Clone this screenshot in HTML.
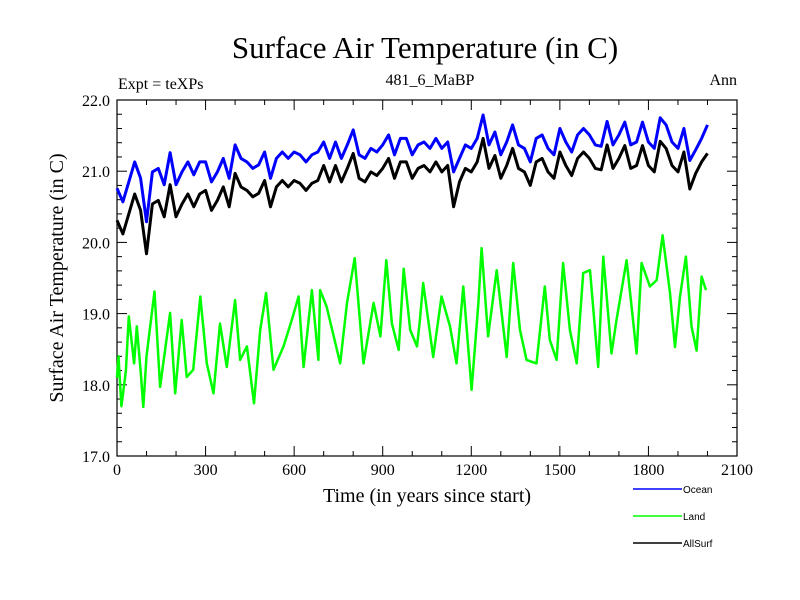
<!DOCTYPE html>
<html><head><meta charset="utf-8"><style>
html,body{margin:0;padding:0;background:#fff;}
svg{display:block;}
text{font-family:"Liberation Serif",serif;fill:#000;}
.sans{font-family:"Liberation Sans",sans-serif;}
</style></head><body>
<svg id="chart" width="800" height="600" xmlns="http://www.w3.org/2000/svg">
<text x="425" y="58" font-size="31" text-anchor="middle">Surface Air Temperature (in C)</text>
<text x="118" y="89" font-size="16">Expt = teXPs</text>
<text x="430" y="85" font-size="16" text-anchor="middle">481_6_MaBP</text>
<text x="737" y="85" font-size="16" text-anchor="end">Ann</text>
<text transform="translate(63,278) rotate(-90)" font-size="20" text-anchor="middle">Surface Air Temperature (in C)</text>
<text x="427" y="502" font-size="20" text-anchor="middle">Time (in years since start)</text>
<g id="axes"></g>
<g id="series"></g>
<g>
<line x1="633" y1="489" x2="682" y2="489" stroke="#0000ff" stroke-width="1.5"/>
<text class="sans" x="683" y="493" font-size="10">Ocean</text>
<line x1="633" y1="516" x2="682" y2="516" stroke="#00ff00" stroke-width="1.5"/>
<text class="sans" x="683" y="520" font-size="10">Land</text>
<line x1="633" y1="543" x2="682" y2="543" stroke="#000" stroke-width="1.5"/>
<text class="sans" x="683" y="547" font-size="10">AllSurf</text>
</g>
</svg>
<script>
const xTickLabels = [0,300,600,900,1200,1500,1800,2100];
const yTickLabels = ["17.0","18.0","19.0","20.0","21.0","22.0"];
const oceanTemps = [20.76,20.57,20.85,21.13,20.90,20.29,20.99,21.04,20.81,21.26,20.81,20.99,21.13,20.95,21.13,21.13,20.85,20.99,21.18,20.90,21.37,21.18,21.13,21.04,21.09,21.27,20.90,21.18,21.27,21.18,21.27,21.23,21.13,21.23,21.27,21.41,21.18,21.41,21.18,21.37,21.58,21.23,21.18,21.32,21.27,21.37,21.51,21.23,21.46,21.46,21.23,21.37,21.41,
21.32,21.46,21.32,21.41,20.99,21.18,21.37,21.32,21.46,21.79,21.37,21.55,21.23,21.41,21.65,21.37,21.32,21.13,21.46,21.51,21.32,21.23,21.60,21.41,21.27,21.51,21.60,21.51,21.37,
21.35,21.70,21.37,21.51,21.69,21.37,21.41,21.69,21.41,21.32,21.75,21.65,21.41,21.32,21.60,21.15,21.30,21.46,21.65];
const allSurfTemps = [20.31,20.12,20.40,20.68,20.45,19.84,20.54,20.59,20.36,20.81,20.36,20.54,20.68,20.50,20.68,
20.73,20.45,20.59,20.78,20.50,20.97,20.78,20.73,20.64,20.69,20.87,20.50,20.78,20.87,20.78,20.87,20.83,20.73,20.83,20.87,
21.08,20.85,21.08,20.85,21.04,21.25,20.90,20.85,20.99,20.94,21.04,21.18,20.90,21.13,21.13,20.90,21.04,21.08,
20.99,21.13,20.99,21.08,20.50,20.85,21.04,20.99,21.13,21.46,21.04,21.22,20.90,21.08,21.32,21.04,20.99,20.80,21.13,21.18,20.99,20.90,21.27,21.08,20.94,21.18,21.27,21.18,21.04,21.02,21.37,21.04,21.18,21.36,21.04,21.08,21.36,21.08,20.99,21.42,21.32,21.08,20.99,21.27,20.75,20.97,21.13,21.25];
const landYears = [0,5,15,30,40,58,67,80,89,100,127,146,180,197,219,236,258,282,304,327,349,372,400,417,440,464,485,505,530,564,592,615,632,660,682,688,710,756,779,805,835,869,892,912,931,954,971,993,1016,
1026,1037,1071,1099,1128,1150,1173,1201,1224,1235,1257,1286,1320,1342,1365,1387,1421,1449,1466,1489,1511,1534,1557,1579,1602,1630,1647,1675,1692,1726,1760,1777,1805,1828,1848,1873,1890,1907,1927,1946,1963,1980,1995];
const landTemps = [18.1,18.4,17.7,18.2,18.96,18.3,18.82,18.2,17.69,18.4,19.31,17.97,19.01,17.88,18.91,18.11,18.21,19.24,18.3,17.88,18.86,18.25,19.19,18.35,18.54,17.74,18.77,19.29,18.21,18.54,18.91,19.24,18.25,19.33,18.35,19.33,19.10,18.30,19.15,19.78,18.30,19.15,18.68,19.75,18.86,18.49,19.63,18.77,18.54,
18.91,19.43,18.39,19.24,18.82,18.30,19.38,17.93,19.15,19.92,18.68,19.61,18.39,19.71,18.77,18.35,18.30,19.38,18.63,18.35,19.71,18.77,18.30,19.57,19.61,18.25,19.80,18.44,18.91,19.75,18.44,19.71,19.38,19.47,20.10,19.29,18.53,19.24,19.80,18.82,18.48,19.52,19.33];

const X0=117,X1=737,Y0=456,Y1=100;
const xs = v => X0 + (v-0)/(2100-0)*(X1-X0);
const ys = v => Y0 - (v-17)/(22-17)*(Y0-Y1);
const NS="http://www.w3.org/2000/svg";
function mk(tag, attrs){const e=document.createElementNS(NS,tag);for(const k in attrs)e.setAttribute(k,attrs[k]);return e;}
const axes=document.getElementById('axes');
const frame=mk('rect',{x:X0,y:Y1,width:X1-X0,height:Y0-Y1,fill:'none',stroke:'#000','stroke-width':1.2});


axes.appendChild(frame);
for(let t=0;t<=2100;t+=100){
  const x=xs(t), L=(t%300===0)?10:5;
  const a=mk('line',{x1:x,y1:Y0,x2:x,y2:Y0-L,stroke:'#000'});
  
  
  axes.appendChild(a);
  const b=mk('line',{x1:x,y1:Y1,x2:x,y2:Y1+L,stroke:'#000'});
  
  
  axes.appendChild(b);
}
xTickLabels.forEach(v=>{
  const t=mk('text',{x:xs(v),y:Y0+19,'font-size':16,'text-anchor':'middle'});
  t.textContent=v;
  
  
  axes.appendChild(t);
});
for(let i=0;i<=25;i++){
  const v=17+i*0.2, y=ys(v), L=(i%5===0)?10:5;
  const a=mk('line',{x1:X0,y1:y,x2:X0+L,y2:y,stroke:'#000'});
  
  
  axes.appendChild(a);
  const b=mk('line',{x1:X1,y1:y,x2:X1-L,y2:y,stroke:'#000'});
  
  
  axes.appendChild(b);
}
yTickLabels.forEach(s=>{
  const t=mk('text',{x:X0-7,y:ys(parseFloat(s))+6,'font-size':16,'text-anchor':'end'});
  t.textContent=s;
  
  
  axes.appendChild(t);
});
const ser=document.getElementById('series');
function line(years, vals, color, name, w){
  const d=vals.map((v,i)=>(i?'L':'M')+xs(years[i]).toFixed(1)+' '+ys(v).toFixed(1)).join(' ');
  const p=mk('path',{d:d,fill:'none',stroke:color,'stroke-width':w,'stroke-linejoin':'round'});
  
  
  ser.appendChild(p);
}
const regYears=oceanTemps.map((_,i)=>i*20);
line(landYears,landTemps,'#00ff00','land-line',2.5);
line(regYears,oceanTemps,'#0000ff','ocean-line',3);
line(regYears,allSurfTemps,'#000000','allsurf-line',3);
</script>
</body></html>
